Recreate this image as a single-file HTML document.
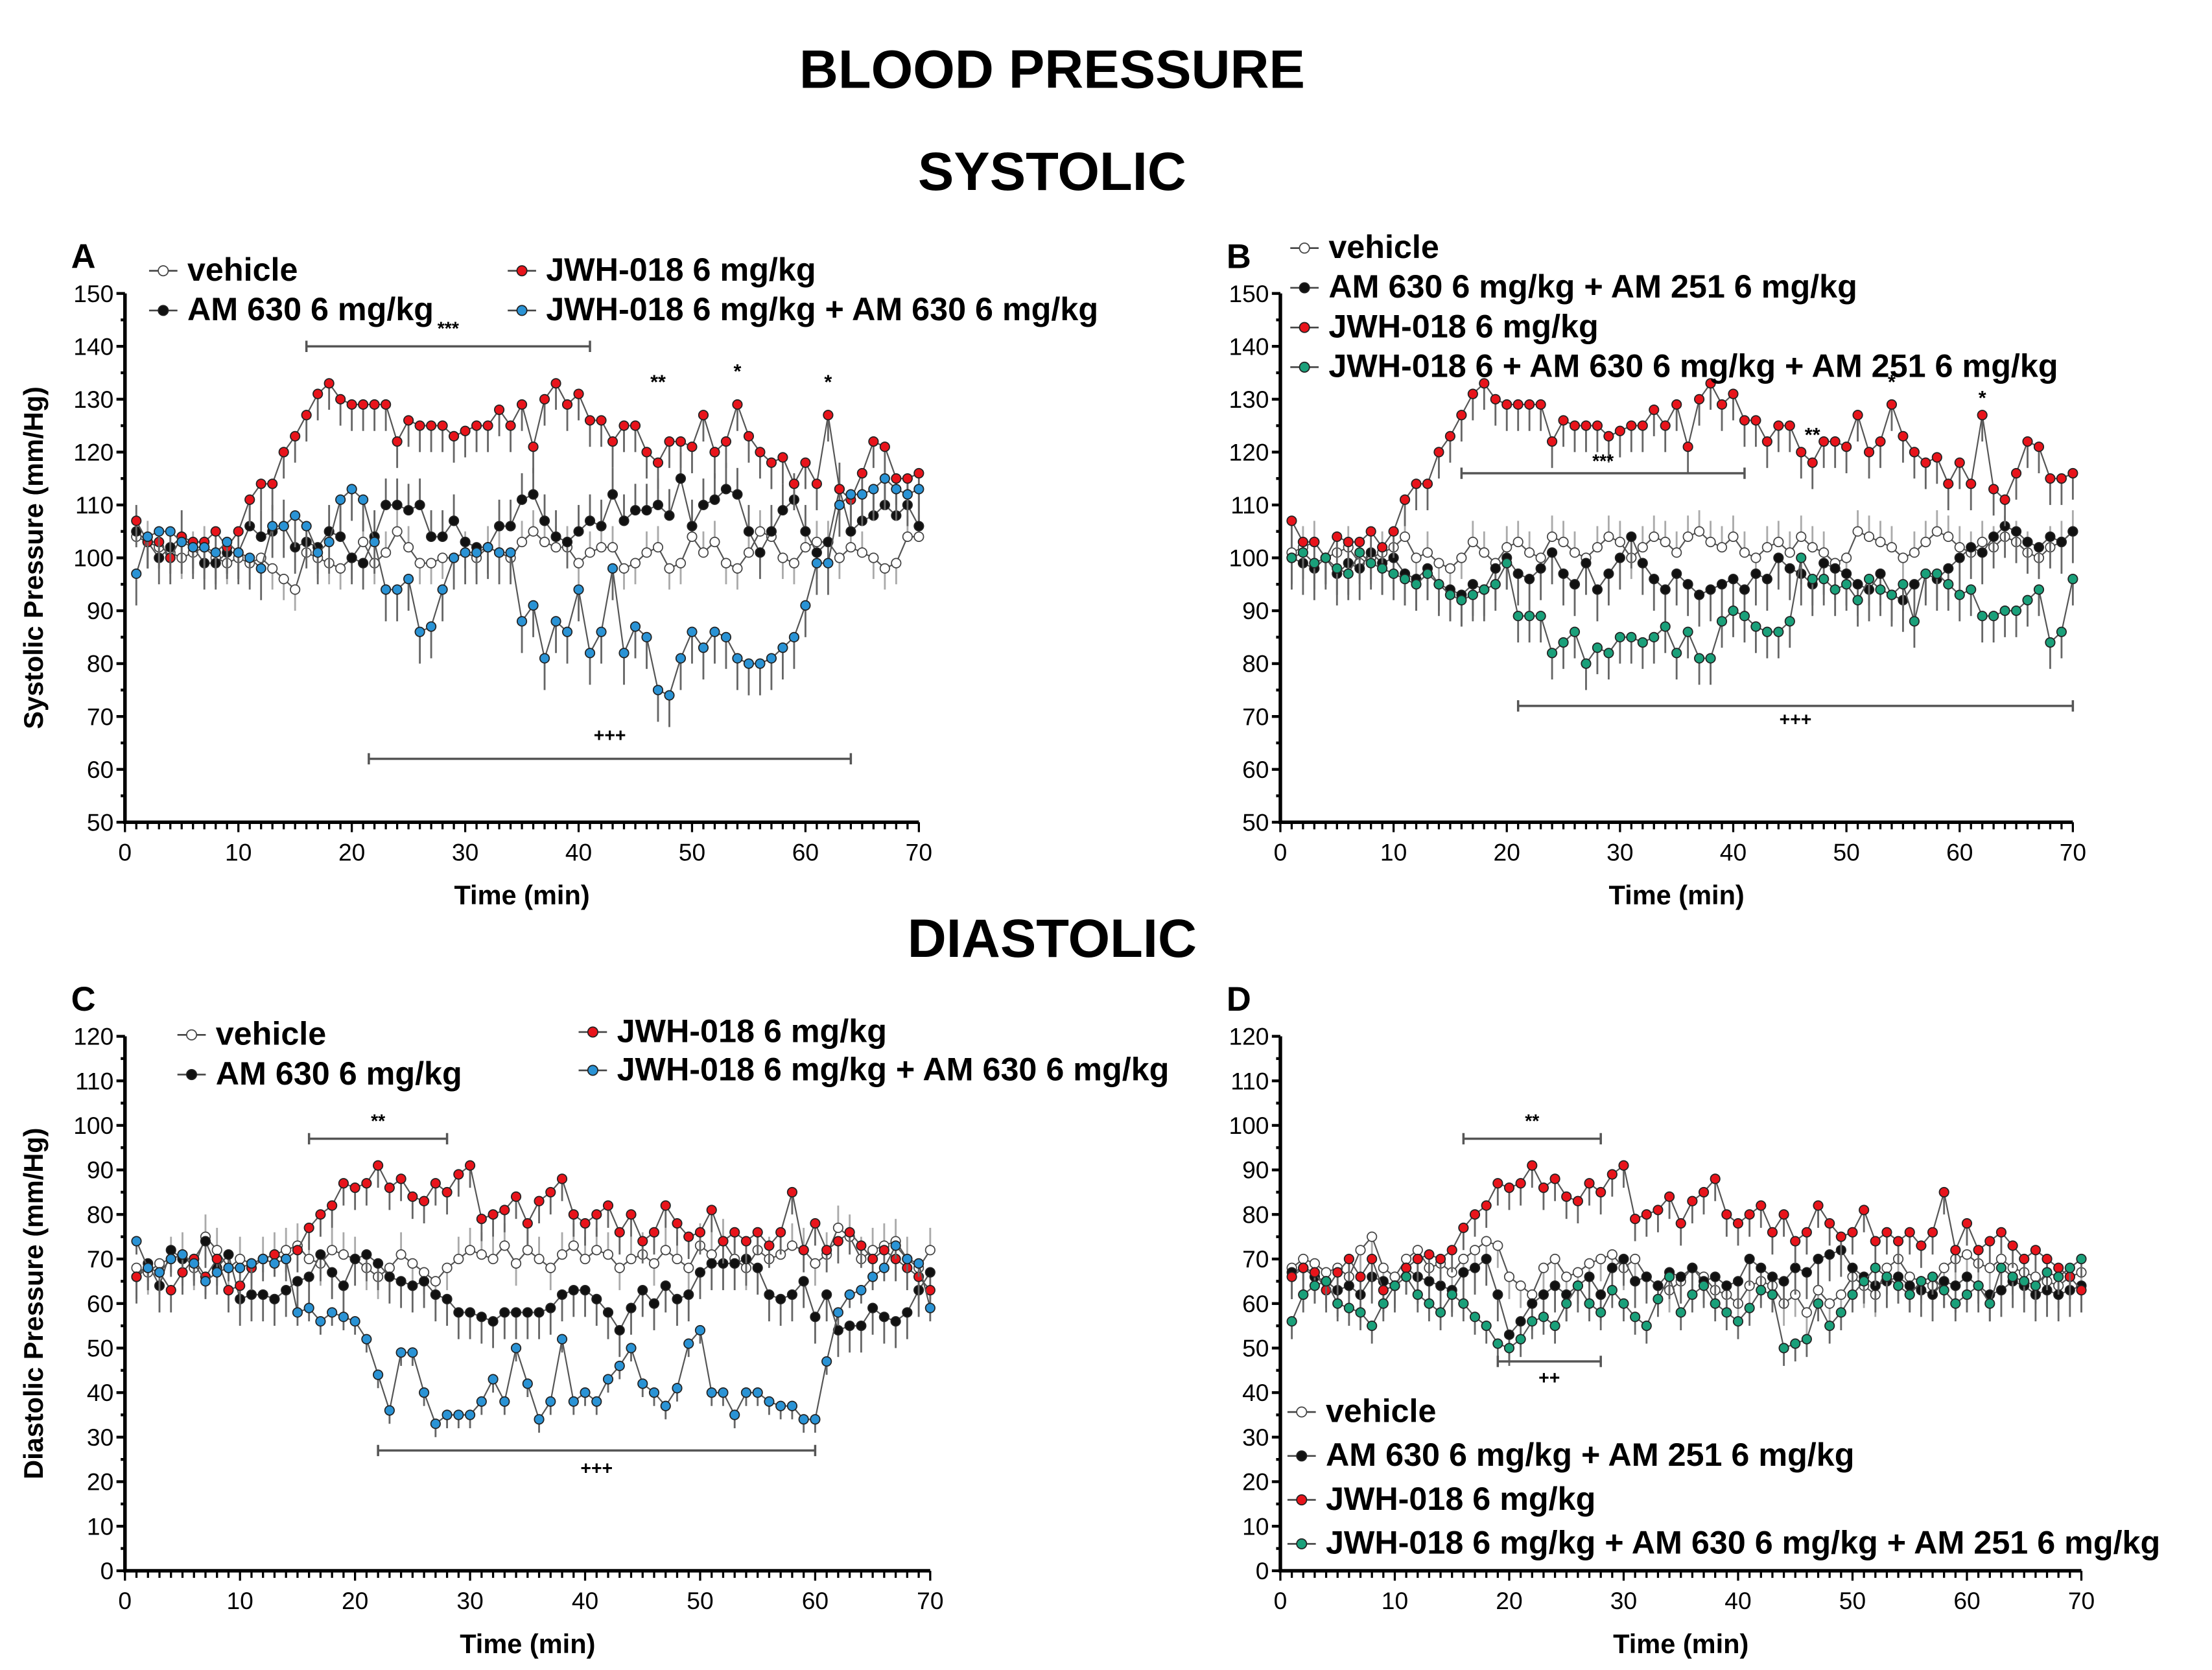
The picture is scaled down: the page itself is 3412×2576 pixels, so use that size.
<!DOCTYPE html>
<html><head><meta charset="utf-8"><style>
html,body{margin:0;padding:0;background:#fff;}
svg{display:block;font-family:"Liberation Sans",Arial,sans-serif;}
</style></head><body>
<svg id="fig" xmlns="http://www.w3.org/2000/svg" width="3412" height="2576" viewBox="0 0 1560 1178">
<text x="742" y="62" text-anchor="middle" font-size="38" font-weight="bold">BLOOD PRESSURE</text>
<text x="742" y="134" text-anchor="middle" font-size="38" font-weight="bold">SYSTOLIC</text>
<text x="742" y="675" text-anchor="middle" font-size="38" font-weight="bold">DIASTOLIC</text>
</svg>
<script>
const timeMin = [1,2,3,4,5,6,7,8,9,10,11,12,13,14,15,16,17,18,19,20,21,22,23,24,25,26,27,28,29,30,31,32,33,34,35,36,37,38,39,40,41,42,43,44,45,46,47,48,49,50,51,52,53,54,55,56,57,58,59,60,61,62,63,64,65,66,67,68,69,70];
const xTicks = [0,10,20,30,40,50,60,70];
const sysTicks = [50,60,70,80,90,100,110,120,130,140,150];
const diaTicks = [0,10,20,30,40,50,60,70,80,90,100,110,120];

const sysRed = [107,103,103,100,104,103,103,105,102,105,111,114,114,120,123,127,131,133,130,129,129,129,129,122,126,125,125,125,123,124,125,125,128,125,129,121,130,133,129,131,126,126,122,125,125,120,118,122,122,121,127,120,122,129,123,120,118,119,114,118,114,127,113,111,116,122,121,115,115,116];
const sysAVeh = [104,103,102,101,100,101,102,100,99,100,99,100,98,96,94,101,100,99,98,100,103,99,101,105,102,99,99,100,100,101,100,102,101,100,103,105,103,102,102,99,101,102,102,98,99,101,102,98,99,104,101,103,99,98,101,105,104,100,99,102,103,103,100,102,101,100,98,99,104,104];
const sysABlack = [105,103,100,102,104,102,99,99,101,101,106,104,105,106,102,103,102,105,104,100,99,104,110,110,109,110,104,104,107,103,102,102,106,106,111,112,107,104,103,105,107,106,112,107,109,109,110,108,115,106,110,111,113,112,105,101,105,109,111,105,101,103,113,105,107,108,110,108,110,106];
const sysABlue = [97,104,105,105,103,102,102,101,103,101,100,98,106,106,108,106,101,103,111,113,111,103,94,94,96,86,87,94,100,101,101,102,101,101,88,91,81,88,86,94,82,86,98,82,87,85,75,74,81,86,83,86,85,81,80,80,81,83,85,91,99,99,110,112,112,113,115,113,112,113];
const sysBVeh = [101,102,103,100,101,102,99,100,101,102,104,100,101,99,98,100,103,101,99,102,103,101,100,104,103,101,100,102,104,103,100,102,104,103,101,104,105,103,102,104,101,100,102,103,101,104,102,101,99,100,105,104,103,102,100,101,103,105,104,102,101,103,102,104,103,101,100,102,103,105];
const sysBBlack = [100,99,98,100,97,99,98,101,99,100,97,96,98,95,94,93,95,94,98,100,97,96,98,101,97,95,99,94,97,100,104,99,96,94,97,95,93,94,95,96,94,97,96,100,98,97,95,99,98,97,95,94,97,93,92,95,97,96,98,100,102,101,104,106,105,103,102,104,103,105];
const sysBGreen = [100,101,99,100,98,97,101,99,98,97,96,95,97,95,93,92,93,94,95,99,89,89,89,82,84,86,80,83,82,85,85,84,85,87,82,86,81,81,88,90,89,87,86,86,88,100,96,96,94,95,92,96,94,93,95,88,97,97,95,93,94,89,89,90,90,92,94,84,86,96];

const diaRed = [66,68,67,63,67,70,66,70,63,64,68,70,71,70,72,77,80,82,87,86,87,91,86,88,84,83,87,85,89,91,79,80,81,84,78,83,85,88,80,78,80,82,76,80,74,76,82,78,75,76,81,74,76,74,76,73,76,85,72,78,72,74,76,73,70,72,70,68,66,63];
const diaCVeh = [68,67,69,70,71,68,75,72,68,70,69,70,71,72,73,70,69,72,71,70,68,66,68,71,69,67,65,68,70,72,71,70,73,69,72,70,68,71,73,70,72,71,68,70,71,69,72,70,68,73,71,74,70,68,72,70,71,73,72,69,71,77,75,70,72,73,74,70,68,72];
const diaCBlack = [66,69,64,72,70,70,74,68,71,61,62,62,61,63,65,66,71,67,64,70,71,69,66,65,64,65,62,61,58,58,57,56,58,58,58,58,59,62,63,63,61,58,54,59,63,60,64,61,62,67,69,69,69,70,68,62,61,62,65,57,62,54,55,55,59,57,56,58,63,67];
const diaCBlue = [74,68,67,70,71,69,65,67,68,68,69,70,69,70,58,59,56,58,57,56,52,44,36,49,49,40,33,35,35,35,38,43,38,50,42,34,38,52,38,40,38,43,46,50,42,40,37,41,51,54,40,40,35,40,40,38,37,37,34,34,47,58,62,63,66,68,73,70,69,59];
const diaDVeh = [68,70,69,67,68,66,72,75,68,66,70,72,68,69,67,70,72,74,73,66,64,62,68,70,66,67,69,70,71,68,70,66,64,63,65,68,66,63,62,60,64,65,64,60,62,58,63,60,62,66,64,62,68,70,66,65,64,68,70,71,69,68,70,68,67,66,65,64,66,67];
const diaDBlack = [67,68,66,65,63,64,62,66,65,64,68,66,65,64,63,67,68,70,62,53,56,60,62,64,62,64,66,62,68,70,65,66,64,67,66,68,65,66,64,65,70,68,66,65,68,67,70,71,72,68,66,64,65,66,64,63,62,65,64,66,64,62,63,65,64,62,63,62,63,64];
const diaDGreen = [56,62,64,65,60,59,58,55,60,64,66,62,60,58,62,60,57,55,51,50,52,56,57,55,60,64,60,58,63,60,57,55,61,66,58,62,64,60,58,56,59,63,62,50,51,52,60,55,58,62,65,68,66,64,62,65,66,63,60,62,64,60,68,66,65,64,67,66,68,70];

const NS='http://www.w3.org/2000/svg';
const svg=document.getElementById('fig');
function mk(tag,attrs,parent,text){const e=document.createElementNS(NS,tag);for(const k in attrs)e.setAttribute(k,attrs[k]);if(text!==undefined)e.textContent=text;(parent||svg).appendChild(e);return e;}

const COL={red:'#e8141b',blue:'#2a93d5',green:'#1aa07a',black:'#111',white:'#fff'};

function panel(p){
  const g=mk('g',{});
  
  
  const xs=v=>p.x0+(v-0)/70*(p.x1-p.x0);
  const ys=v=>p.yb-(v-p.ymin)/(p.ymax-p.ymin)*(p.yb-p.yt);
  const ax=mk('path',{d:`M${p.x0},${p.yt} V${p.yb} H${p.x1}`,stroke:'#000','stroke-width':2.5,fill:'none'},g);
  
  p.yticks.forEach((t,i)=>{
    mk('line',{x1:p.x0-6,x2:p.x0,y1:ys(t),y2:ys(t),stroke:'#000','stroke-width':2},g);
    if(i<p.yticks.length-1){const m=(t+p.yticks[i+1])/2;mk('line',{x1:p.x0-3,x2:p.x0,y1:ys(m),y2:ys(m),stroke:'#000','stroke-width':2},g);}
    const tl=mk('text',{x:p.x0-8,y:ys(t)+6,'text-anchor':'end','font-size':17},g,String(t));
    
  });
  for(let v=0;v<=70;v++){mk('line',{x1:xs(v),x2:xs(v),y1:p.yb,y2:p.yb+(v%10===0?7:5),stroke:'#000','stroke-width':1.5},g);}
  xTicks.forEach(t=>{const tl=mk('text',{x:xs(t),y:p.yb+27,'text-anchor':'middle','font-size':17},g,String(t));
    });
  const xt=mk('text',{x:(p.x0+p.x1)/2,y:p.yb+58,'text-anchor':'middle','font-size':19,'font-weight':'bold'},g,'Time (min)');
  
  if(p.ytitle){const yt=mk('text',{x:0,y:0,'text-anchor':'middle','font-size':19,'font-weight':'bold',transform:`translate(${p.x0-58},${(p.yt+p.yb)/2}) rotate(-90)`},g,p.ytitle);
    }
  const lt=mk('text',{x:p.x0-38,y:p.yt-18,'font-size':24,'font-weight':'bold'},g,p.id);
  
  p.series.forEach(s=>{
    const sg=mk('g',{},g);
    
    s.vals.forEach((v,i)=>{const dir=(v>=s.ref)?-1:1;mk('line',{x1:xs(timeMin[i]),x2:xs(timeMin[i]),y1:ys(v),y2:ys(v)+dir*s.err*(p.yb-p.yt)/(p.ymax-p.ymin),stroke:s.fill==='#fff'?'#aaa':'#666','stroke-width':1.3},sg);});
    mk('polyline',{points:s.vals.map((v,i)=>xs(timeMin[i])+','+ys(v)).join(' '),fill:'none',stroke:'#555','stroke-width':1},sg);
    s.vals.forEach((v,i)=>{const c=mk('circle',{cx:xs(timeMin[i]),cy:ys(v),r:3.3,fill:s.fill,stroke:s.fill==='#fff'?'#444':'#222','stroke-width':0.8},sg);
      });
  });
  p.sig.forEach(b=>{
    const y=ys(b.y);
    const l=mk('path',{d:`M${xs(b.a)},${y-4}V${y+4}M${xs(b.a)},${y}H${xs(b.b)}M${xs(b.b)},${y-4}V${y+4}`,stroke:'#555','stroke-width':1.6,fill:'none'},g);
    
    const t=mk('text',{x:(xs(b.a)+xs(b.b))/2,y:y+b.ty,'text-anchor':'middle','font-size':13,'font-weight':'bold'},g,b.label);
    
  });
  p.stars.forEach(s=>{const t=mk('text',{x:xs(s.x),y:ys(s.y),'text-anchor':'middle','font-size':14,'font-weight':'bold'},g,s.label);
    });
  p.legend.forEach(L=>{
    const lg=mk('g',{},g);
    
    mk('line',{x1:L.x,x2:L.x+20,y1:L.y-7,y2:L.y-7,stroke:'#444','stroke-width':1.2},lg);
    mk('circle',{cx:L.x+10,cy:L.y-7,r:3.5,fill:L.fill,stroke:L.fill==='#fff'?'#444':'#222','stroke-width':0.8},lg);
    mk('text',{x:L.x+27,y:L.y,'font-size':23,'font-weight':'bold'},lg,L.text);
  });
}

panel({id:'A',x0:88,x1:648,yt:207,yb:580,ymin:50,ymax:150,yticks:sysTicks,ytitle:'Systolic Pressure (mm/Hg)',
 series:[{name:'vehicle',vals:sysAVeh,fill:'#fff',err:4,ref:101},{name:'am630',vals:sysABlack,fill:COL.black,err:5,ref:104},
  {name:'jwh018',vals:sysRed,fill:COL.red,err:5,ref:200},{name:'jwh018-am630',vals:sysABlue,fill:COL.blue,err:6,ref:200}],
 sig:[{a:16,b:41,y:140,label:'***',ty:-8},{a:21.5,b:64,y:62,label:'+++',ty:-12}],
 stars:[{x:47,y:132,label:'**'},{x:54,y:134,label:'*'},{x:62,y:132,label:'*'}],
 legend:[{x:105,y:198,text:'vehicle',fill:'#fff'},{x:105,y:226,text:'AM 630 6 mg/kg',fill:COL.black},
  {x:358,y:198,text:'JWH-018 6 mg/kg',fill:COL.red},{x:358,y:226,text:'JWH-018 6 mg/kg + AM 630 6 mg/kg',fill:COL.blue}]});

panel({id:'B',x0:903,x1:1462,yt:207,yb:580,ymin:50,ymax:150,yticks:sysTicks,ytitle:null,
 series:[{name:'vehicle',vals:sysBVeh,fill:'#fff',err:4,ref:101},{name:'am630-am251',vals:sysBBlack,fill:COL.black,err:6,ref:200},
  {name:'jwh018',vals:sysRed,fill:COL.red,err:5,ref:200},{name:'jwh018-am630-am251',vals:sysBGreen,fill:COL.green,err:5,ref:200}],
 sig:[{a:16,b:41,y:116,label:'***',ty:-4},{a:21,b:70,y:72,label:'+++',ty:14}],
 stars:[{x:47,y:122,label:'**'},{x:54,y:132,label:'*'},{x:62,y:129,label:'*'}],
 legend:[{x:910,y:182,text:'vehicle',fill:'#fff'},{x:910,y:210,text:'AM 630 6 mg/kg + AM 251 6 mg/kg',fill:COL.black},
  {x:910,y:238,text:'JWH-018 6 mg/kg',fill:COL.red},{x:910,y:266,text:'JWH-018 6 + AM 630 6 mg/kg + AM 251 6 mg/kg',fill:COL.green}]});

panel({id:'C',x0:88,x1:656,yt:731,yb:1108,ymin:0,ymax:120,yticks:diaTicks,ytitle:'Diastolic Pressure (mm/Hg)',
 series:[{name:'vehicle',vals:diaCVeh,fill:'#fff',err:5,ref:70},{name:'am630',vals:diaCBlack,fill:COL.black,err:6,ref:200},
  {name:'jwh018',vals:diaRed,fill:COL.red,err:5,ref:200},{name:'jwh018-am630',vals:diaCBlue,fill:COL.blue,err:3,ref:200}],
 sig:[{a:16,b:28,y:97,label:'**',ty:-8},{a:22,b:60,y:27,label:'+++',ty:17}],
 stars:[],
 legend:[{x:125,y:737,text:'vehicle',fill:'#fff'},{x:125,y:765,text:'AM 630 6 mg/kg',fill:COL.black},
  {x:408,y:735,text:'JWH-018 6 mg/kg',fill:COL.red},{x:408,y:762,text:'JWH-018 6 mg/kg + AM 630 6 mg/kg',fill:COL.blue}]});

panel({id:'D',x0:903,x1:1468,yt:731,yb:1108,ymin:0,ymax:120,yticks:diaTicks,ytitle:null,
 series:[{name:'vehicle',vals:diaDVeh,fill:'#fff',err:5,ref:200},{name:'am630-am251',vals:diaDBlack,fill:COL.black,err:6,ref:200},
  {name:'jwh018',vals:diaRed,fill:COL.red,err:5,ref:200},{name:'jwh018-am630-am251',vals:diaDGreen,fill:COL.green,err:4,ref:200}],
 sig:[{a:16,b:28,y:97,label:'**',ty:-8},{a:19,b:28,y:47,label:'++',ty:16}],
 stars:[],
 legend:[{x:908,y:1003,text:'vehicle',fill:'#fff'},{x:908,y:1034,text:'AM 630 6 mg/kg + AM 251 6 mg/kg',fill:COL.black},
  {x:908,y:1065,text:'JWH-018 6 mg/kg',fill:COL.red},{x:908,y:1096,text:'JWH-018 6 mg/kg + AM 630 6 mg/kg + AM 251 6 mg/kg',fill:COL.green}]});
</script>
</body></html>
